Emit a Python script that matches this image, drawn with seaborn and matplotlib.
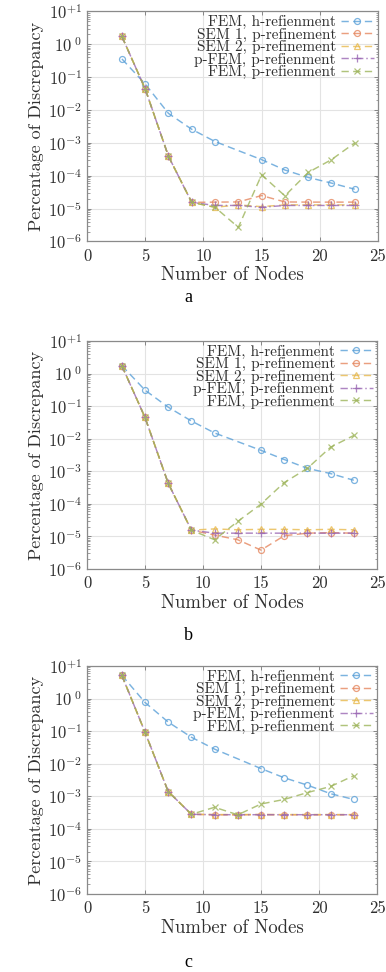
import numpy as np
import pandas as pd
import matplotlib
matplotlib.use("Agg")
import matplotlib.pyplot as plt
import seaborn as sns
from matplotlib.ticker import LogLocator, NullFormatter, FixedLocator

# ---------------- data ----------------
x_all = [3, 5, 7, 9, 11, 13, 15, 17, 19, 21, 23]
x_h = [3, 5, 7, 9, 11, 15, 17, 19, 21, 23]

a_fem_h = [0.36, 0.062, 0.0079, 0.0026, 0.0011, 3.1e-4, 1.5e-4, 8.9e-5, 6.0e-5, 3.9e-5]
a_sem1 = [1.74, 0.044, 3.9e-4, 1.55e-5, 1.58e-5, 1.6e-5, 2.5e-5, 1.6e-5, 1.58e-5, 1.58e-5, 1.58e-5]
a_sem2 = [1.74, 0.044, 3.9e-4, 1.55e-5, 1.1e-5, 1.3e-5, 1.15e-5, 1.3e-5, 1.3e-5, 1.3e-5, 1.3e-5]
a_pfem = [1.74, 0.044, 3.9e-4, 1.55e-5, 1.25e-5, 1.25e-5, 1.1e-5, 1.25e-5, 1.25e-5, 1.25e-5, 1.25e-5]
a_fem_p = [1.74, 0.044, 3.9e-4, 1.55e-5, 1.1e-5, 2.7e-6, 1.07e-4, 2.45e-5, 1.26e-4, 3.1e-4, 1.0e-3]

b_fem_h = [1.76, 0.31, 0.093, 0.035, 0.015, 4.4e-3, 2.3e-3, 1.23e-3, 8.5e-4, 5.3e-4]
b_sem1 = [1.76, 0.045, 4.3e-4, 1.56e-5, 1.1e-5, 7.9e-6, 3.8e-6, 1.05e-5, 1.26e-5, 1.3e-5, 1.26e-5]
b_sem2 = [1.76, 0.045, 4.3e-4, 1.56e-5, 1.7e-5, 1.6e-5, 1.65e-5, 1.65e-5, 1.6e-5, 1.65e-5, 1.6e-5]
b_pfem = [1.76, 0.045, 4.3e-4, 1.56e-5, 1.26e-5, 1.26e-5, 1.26e-5, 1.26e-5, 1.26e-5, 1.26e-5, 1.26e-5]
b_fem_p = [1.76, 0.045, 4.3e-4, 1.56e-5, 7.9e-6, 2.9e-5, 9.8e-5, 4.5e-4, 1.23e-3, 5.5e-3, 1.26e-2]

c_fem_h = [5.2, 0.76, 0.19, 0.065, 0.028, 7.1e-3, 3.7e-3, 2.2e-3, 1.2e-3, 8.0e-4]
c_sem1 = [5.2, 0.093, 1.4e-3, 2.8e-4, 2.7e-4, 2.7e-4, 2.75e-4, 2.7e-4, 2.7e-4, 2.7e-4, 2.7e-4]
c_sem2 = [5.2, 0.093, 1.4e-3, 2.8e-4, 2.75e-4, 2.75e-4, 2.75e-4, 2.75e-4, 2.75e-4, 2.75e-4, 2.75e-4]
c_pfem = [5.2, 0.093, 1.4e-3, 2.8e-4, 2.72e-4, 2.72e-4, 2.72e-4, 2.72e-4, 2.72e-4, 2.72e-4, 2.72e-4]
c_fem_p = [5.2, 0.093, 1.4e-3, 2.8e-4, 4.6e-4, 2.7e-4, 5.8e-4, 8.0e-4, 1.3e-3, 2.0e-3, 4.3e-3]

series_names = ["FEM, h-refienment", "SEM 1, p-refinement", "SEM 2, p-refinement",
                "p-FEM, p-refienment", "FEM, p-refienment"]
x_ticks = [0, 5, 10, 15, 20, 25]
y_exps = [1, 0, -1, -2, -3, -4, -5, -6]
y_tick_labels = [r"$10^{+1}$", r"$10^{\ 0}$", r"$10^{-1}$", r"$10^{-2}$", r"$10^{-3}$",
                 r"$10^{-4}$", r"$10^{-5}$", r"$10^{-6}$"]
captions = ["a", "b", "c"]

panels = [
    (a_fem_h, a_sem1, a_sem2, a_pfem, a_fem_p),
    (b_fem_h, b_sem1, b_sem2, b_pfem, b_fem_p),
    (c_fem_h, c_sem1, c_sem2, c_pfem, c_fem_p),
]

# ---------------- style ----------------
sns.set_theme(style="ticks")
plt.rcParams["font.family"] = ["cmr10", "DejaVu Serif"]
plt.rcParams["mathtext.fontset"] = "cm"
plt.rcParams["axes.formatter.use_mathtext"] = True
plt.rcParams["axes.unicode_minus"] = True

colors = ["#5aa0d8", "#e5875f", "#e8b94c", "#9a67b3", "#9db45a"]
markers = ["o", "o", "^", "+", "x"]
dash_styles = [(0, (5, 3)), (0, (5, 3)), (0, (5, 3)), (0, (5, 2, 1, 2)), (0, (5, 3))]

W, H = 386, 972
fig = plt.figure(figsize=(W / 100, H / 100), dpi=100)

ax_boxes = [  # left, top, right, bottom in px
    (87, 11.5, 378, 241.5),
    (87, 341, 377, 569),
    (87, 666, 377, 894),
]
caption_y = [298, 635, 962]
txt_col = "#303030"

for i, (vals, box) in enumerate(zip(panels, ax_boxes)):
    l, t, r, b = box
    ax = fig.add_axes([l / W, 1 - b / H, (r - l) / W, (b - t) / H])
    for k in range(5):
        xs = x_h if k == 0 else x_all
        df = pd.DataFrame({"x": xs, "y": vals[k]})
        mfc = "none" if markers[k] in ("o", "^") else colors[k]
        sns.lineplot(data=df, x="x", y="y", ax=ax, color=colors[k], alpha=0.8,
                     linestyle=dash_styles[k], linewidth=1.05, marker=markers[k],
                     markersize=4.3 if markers[k] != "+" else 5.5, markerfacecolor=mfc,
                     markeredgecolor=colors[k], markeredgewidth=0.9,
                     label=series_names[k], estimator=None, sort=False)
    ax.set_yscale("log")
    ax.set_xlim(0, 25)
    ax.set_ylim(1e-6, 1e1)
    ax.set_xticks(x_ticks)
    ax.set_xticklabels([str(v) for v in x_ticks])
    ax.yaxis.set_major_locator(FixedLocator([10.0 ** e for e in y_exps]))
    ax.set_yticklabels(y_tick_labels)
    ax.yaxis.set_minor_locator(LogLocator(base=10, subs=np.arange(2, 10), numticks=20))
    ax.yaxis.set_minor_formatter(NullFormatter())
    ax.grid(True, which="major", color="#e3e3e3", linewidth=0.8)
    ax.set_axisbelow(True)
    ax.tick_params(axis="both", which="both", direction="in", top=True, right=True,
                   colors="#777777", labelcolor=txt_col, labelsize=12)
    ax.tick_params(axis="both", which="major", length=3, width=0.6)
    ax.tick_params(axis="y", which="minor", length=1.8, width=0.5)
    ax.tick_params(axis="x", which="major", pad=5)
    for sp in ax.spines.values():
        sp.set_color("#8a8a8a")
        sp.set_linewidth(0.9)
    ax.set_xlabel("Number of Nodes", fontsize=13.5, color=txt_col, labelpad=2)
    ax.set_ylabel("Percentage of Discrepancy", fontsize=13, color=txt_col, labelpad=3)
    leg = ax.legend(loc="upper right", bbox_to_anchor=(1.0, 1.0), frameon=False,
                    markerfirst=False, fontsize=11, labelspacing=-0.1,
                    handlelength=2.2, handletextpad=0.3, borderaxespad=0.15, borderpad=0.1)
    for txt in leg.get_texts():
        txt.set_color(txt_col)
    fig.text(188 / W, 1 - caption_y[i] / H, captions[i], ha="center", va="center",
             fontsize=13, family="Liberation Serif", color="black")

fig.savefig("out.png", dpi=100)
